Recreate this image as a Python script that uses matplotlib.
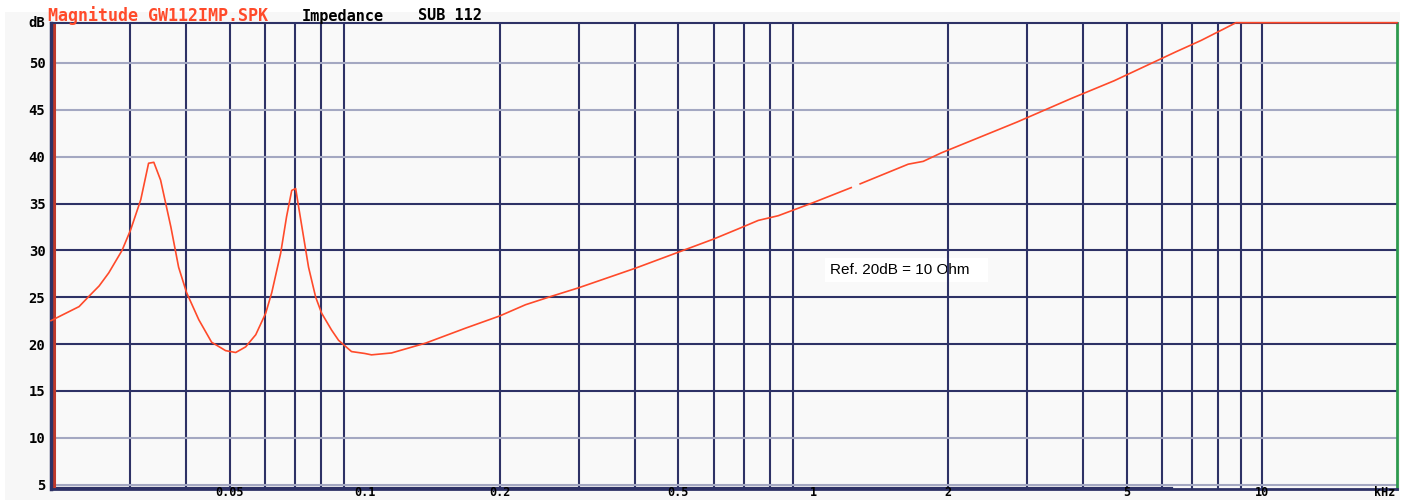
"""Impedance magnitude plot, SUB 112 (GW112IMP.SPK)"""

import numpy as np
import matplotlib
matplotlib.use("Agg")
import matplotlib.pyplot as plt
import matplotlib.transforms as mtransforms
from matplotlib.patches import Rectangle

# frequency in kHz, magnitude in dB (ref 20 dB = 10 Ohm)
freq_khz = [0.0200, 0.0231, 0.0243, 0.0256, 0.0269, 0.0288, 0.0301, 0.0317, 0.0330,
            0.0339, 0.0351, 0.0370, 0.0385, 0.0401, 0.0427, 0.0456, 0.0490, 0.0516,
            0.0543, 0.0572, 0.0602, 0.0621, 0.0650, 0.0670, 0.0688, 0.0702, 0.0713,
            0.0750, 0.0778, 0.0802, 0.0844, 0.0875, 0.0935, 0.1000, 0.1036, 0.1148,
            0.1367, 0.1679, 0.2000, 0.2284, 0.2609, 0.2996, 0.4015, 0.5000, 0.5989,
            0.6807, 0.7543, 0.8356, 1.000, 1.215, 1.240, 1.272, 1.628, 1.758, 1.928,
            2.847, 3.754, 4.682, 5.574, 6.435, 7.313, 8.274, 8.752, 20.0]
mag_db = [22.5, 24.0, 25.1, 26.2, 27.6, 30.0, 32.2, 35.4, 39.3,
          39.4, 37.5, 32.5, 28.2, 25.5, 22.6, 20.2, 19.3, 19.1,
          19.7, 21.0, 23.3, 25.5, 29.7, 33.6, 36.4, 36.6, 34.6,
          28.2, 25.0, 23.3, 21.5, 20.4, 19.2, 19.0, 18.85, 19.05,
          20.1, 21.7, 23.0, 24.2, 25.1, 26.0, 28.1, 29.8, 31.2,
          32.3, 33.2, 33.7, 35.1, 36.7, np.nan, 37.1, 39.2, 39.5, 40.4,
          43.7, 46.2, 48.1, 49.8, 51.2, 52.4, 53.7, 54.3, 54.3]

y_ticks = [5, 10, 15, 20, 25, 30, 35, 40, 45, 50]
light_rows = [5, 10, 40, 45, 50]
x_ticks = [0.05, 0.1, 0.2, 0.5, 1, 2, 5, 10]
x_ticklabels = ["0.05", "0.1", "0.2", "0.5", "1", "2", "5", "10"]
grid_freqs = [m * 10.0 ** e for e in (-2, -1, 0) for m in range(2, 10)] + [10.0]

navy = "#2e3266"
light = "#a4a8c2"
red = "#ff4a2a"
mono = ["DejaVu Sans Mono"]

fig = plt.figure(figsize=(14.1, 5.0), dpi=100)
fig.patches.append(Rectangle((5 / 1410, 0), 1395 / 1410, 488 / 500,
                             transform=fig.transFigure, facecolor="#f7f7f7",
                             edgecolor="none", zorder=-10))
ax = fig.add_axes([51 / 1410, 10.7 / 500, 1346 / 1410, 466.6 / 500])
ax.set_facecolor("#f9f9f9")
ax.set_xscale("log")
ax.set_xlim(0.02, 20)
ax.set_ylim(4.5, 54.3)

# grid
for f in grid_freqs:
    if 0.02 < f < 20:
        ax.axvline(f, color=navy, lw=1.5, zorder=1)
for v in y_ticks:
    ax.axhline(v, color=light if v in light_rows else navy, lw=1.5, zorder=1)

# bottom trace marker and left red marker
ax.plot([0.02, 6.3], [4.62, 4.62], color=navy, lw=1.6, zorder=2)
ax.axvline(0.02035, color="#c0392b", lw=2.2, zorder=2)

ax.plot(freq_khz, mag_db, color=red, lw=1.2, zorder=3, clip_on=False)

ax.text(1.091, 27.9, "Ref. 20dB = 10 Ohm   ", fontsize=11, family="Liberation Sans",
        va="center", ha="left", zorder=0.8,
        bbox=dict(boxstyle="square,pad=0.35", facecolor="white", edgecolor="none"))

for side in ("top", "bottom", "left"):
    ax.spines[side].set_color(navy)
ax.spines["left"].set_linewidth(2.5)
ax.spines["bottom"].set_linewidth(2)
ax.spines["top"].set_linewidth(1.5)
ax.spines["right"].set_color("#2e9a4e")
ax.spines["right"].set_linewidth(2)

ax.set_xticks([])
ax.xaxis.set_minor_locator(plt.NullLocator())
ax.set_yticks(y_ticks)
ax.tick_params(length=0, labelsize=10, colors="black")
ax.tick_params(axis="y", pad=4)
for lab in ax.get_yticklabels():
    lab.set_family(mono)
    lab.set_fontweight("bold")

# x labels sit right at the bottom edge of the picture
xlab_tr = mtransforms.blended_transform_factory(ax.transData, fig.transFigure)
for xv, lab in zip(x_ticks, x_ticklabels):
    ax.text(xv, 1 / 500, lab, transform=xlab_tr, ha="center", va="bottom",
            fontsize=8.5, family=mono, fontweight="bold", clip_on=False)
ax.text(0.999, 1 / 500, "kHz", transform=mtransforms.blended_transform_factory(
        ax.transAxes, fig.transFigure), ha="right", va="bottom",
        fontsize=8.5, family=mono, fontweight="bold")

ax.text(-0.004, 1.0, "dB", transform=ax.transAxes, ha="right", va="center",
        fontsize=10, family=mono, fontweight="bold")

# header
fig.text(48 / 1410, 1 - 16 / 500, "Magnitude GW112IMP.SPK", color=red, fontsize=12,
         family=mono, fontweight="bold", va="center", ha="left")
fig.text(302 / 1410, 1 - 16 / 500, "Impedance", color="black", fontsize=11,
         family=mono, fontweight="bold", va="center", ha="left")
fig.text(418 / 1410, 1 - 16 / 500, "SUB 112", color="black", fontsize=11,
         family=mono, fontweight="bold", va="center", ha="left")

fig.savefig("out.png", dpi=100)
